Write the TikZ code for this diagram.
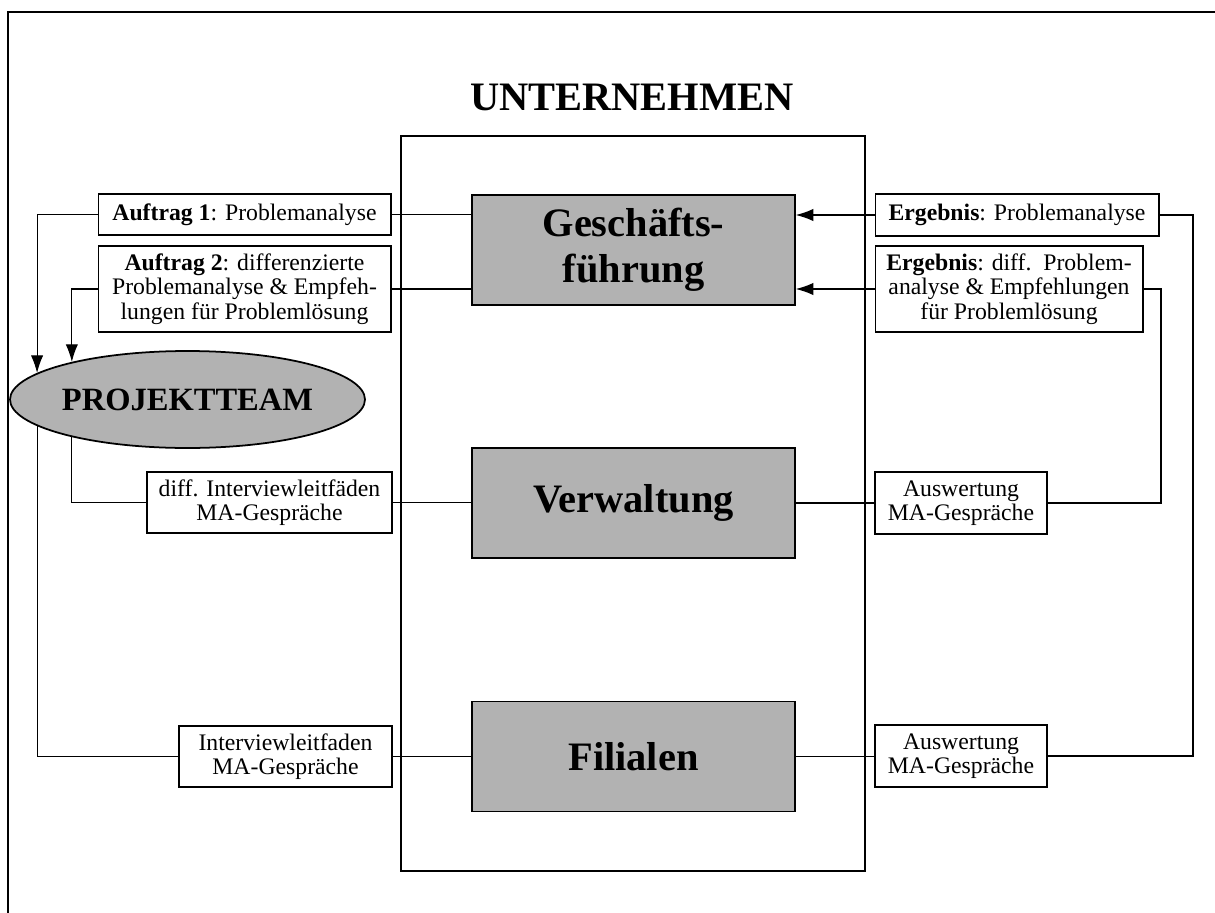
\documentclass[tikz,border=0pt]{standalone}
\usepackage{fontspec}
\setmainfont{Liberation Serif}
\usetikzlibrary{arrows.meta,shapes.geometric}

\begin{document}
\begin{tikzpicture}[x=0.02cm,y=0.02cm,
            box/.style={draw,line width=0.6pt,inner sep=0pt,align=center,font=\fontsize{13.5}{14}\selectfont},
            unit/.style={draw,line width=0.9pt,fill=black!30,minimum width=6.46cm,minimum height=2.2cm,align=center,font=\fontsize{23}{26}\selectfont\bfseries},
            team/.style={ellipse,draw,line width=1pt,fill=black!30,inner sep=0pt,minimum width=6.42cm,minimum height=1.94cm,font=\fontsize{18.5}{20}\selectfont\bfseries},
            link/.style={draw,line width=0.65pt},
            pfeil/.style={link,-{Latex[length=10pt,width=7pt]}},
            rahmen/.style={draw,line width=1.2pt}
          ]
          \useasboundingbox (0,0) rectangle (1215,-913);
          \draw[rahmen] (8,-913) |- (1215,-12);

          %unternehmen
          \node[font=\fontsize{23}{26}\selectfont\bfseries] (titel) at (632,-97) {UNTERNEHMEN};
          \draw[rahmen] (401,-136) rectangle (865,-871);
          \node[unit] (gf) at (633.5,-250) {Geschäfts-\\führung};
          \node[unit] (verw) at (633.5,-503) {Verwaltung};
          \node[unit] (fil) at (633.5,-756.5) {Filialen};

          \node[team] (team) at (187.5,-399.5) {PROJEKTTEAM};

          %auftraege
          \node[box,minimum width=5.86cm,minimum height=0.82cm] (auf1) at (244.5,-214.5) {\textbf{Auftrag 1}: Problemanalyse};
          \node[box,minimum width=5.86cm,minimum height=1.72cm] (auf2) at (244.5,-289) {\textbf{Auftrag 2}: differenzierte\\Problemanalyse \& Empfeh-\\lungen für Problemlösung};
          \node[box,minimum width=4.9cm,minimum height=1.22cm] (leit1) at (269.5,-502.5) {diff. Interviewleitfäden\\MA-Gespräche};
          \node[box,minimum width=4.26cm,minimum height=1.22cm] (leit2) at (285.5,-756.5) {Interviewleitfaden\\MA-Gespräche};

          %ergebnisse
          \node[box,minimum width=5.68cm,minimum height=0.84cm] (erg1) at (1017,-215) {\textbf{Ergebnis}: Problemanalyse};
          \node[box,minimum width=5.36cm,minimum height=1.72cm] (erg2) at (1009,-289) {\textbf{Ergebnis}: diff.\ \ Problem-\\analyse \& Empfehlungen\\für Problemlösung};
          \node[box,minimum width=3.44cm,minimum height=1.24cm] (ausw1) at (961,-503) {Auswertung\\MA-Gespräche};
          \node[box,minimum width=3.44cm,minimum height=1.24cm] (ausw2) at (961,-756) {Auswertung\\MA-Gespräche};

          \coordinate (r1) at (1193,0);
          \coordinate (r2) at (1161,0);

          %links
          \draw[link] (auf1.east) -- (auf1.east -| gf.west);
          \draw[link] (auf2.east) -- (auf2.east -| gf.west);
          \draw[link] (leit1.east) -- (leit1.east -| verw.west);
          \draw[link] (leit2.east) -- (leit2.east -| fil.west);
          \draw[pfeil] (auf1.west) -| (team.170);
          \draw[pfeil] (auf2.west) -| (team.162);
          \draw[link] (team.190) |- (leit2.west);
          \draw[link] (team.198) |- (leit1.west);

          %rechts
          \draw[pfeil] (erg1.west) -- (erg1.west -| gf.east);
          \draw[pfeil] (erg2.west) -- (erg2.west -| gf.east);
          \draw[link] (verw.east) -- (verw.east -| ausw1.west);
          \draw[link] (fil.east) -- (fil.east -| ausw2.west);
          \draw[link] (erg1.east) -- (erg1.east -| r1) -- (r1 |- ausw2.east) -- (ausw2.east);
          \draw[link] (erg2.east) -- (erg2.east -| r2) -- (r2 |- ausw1.east) -- (ausw1.east);
      \end{tikzpicture}
\end{document}
